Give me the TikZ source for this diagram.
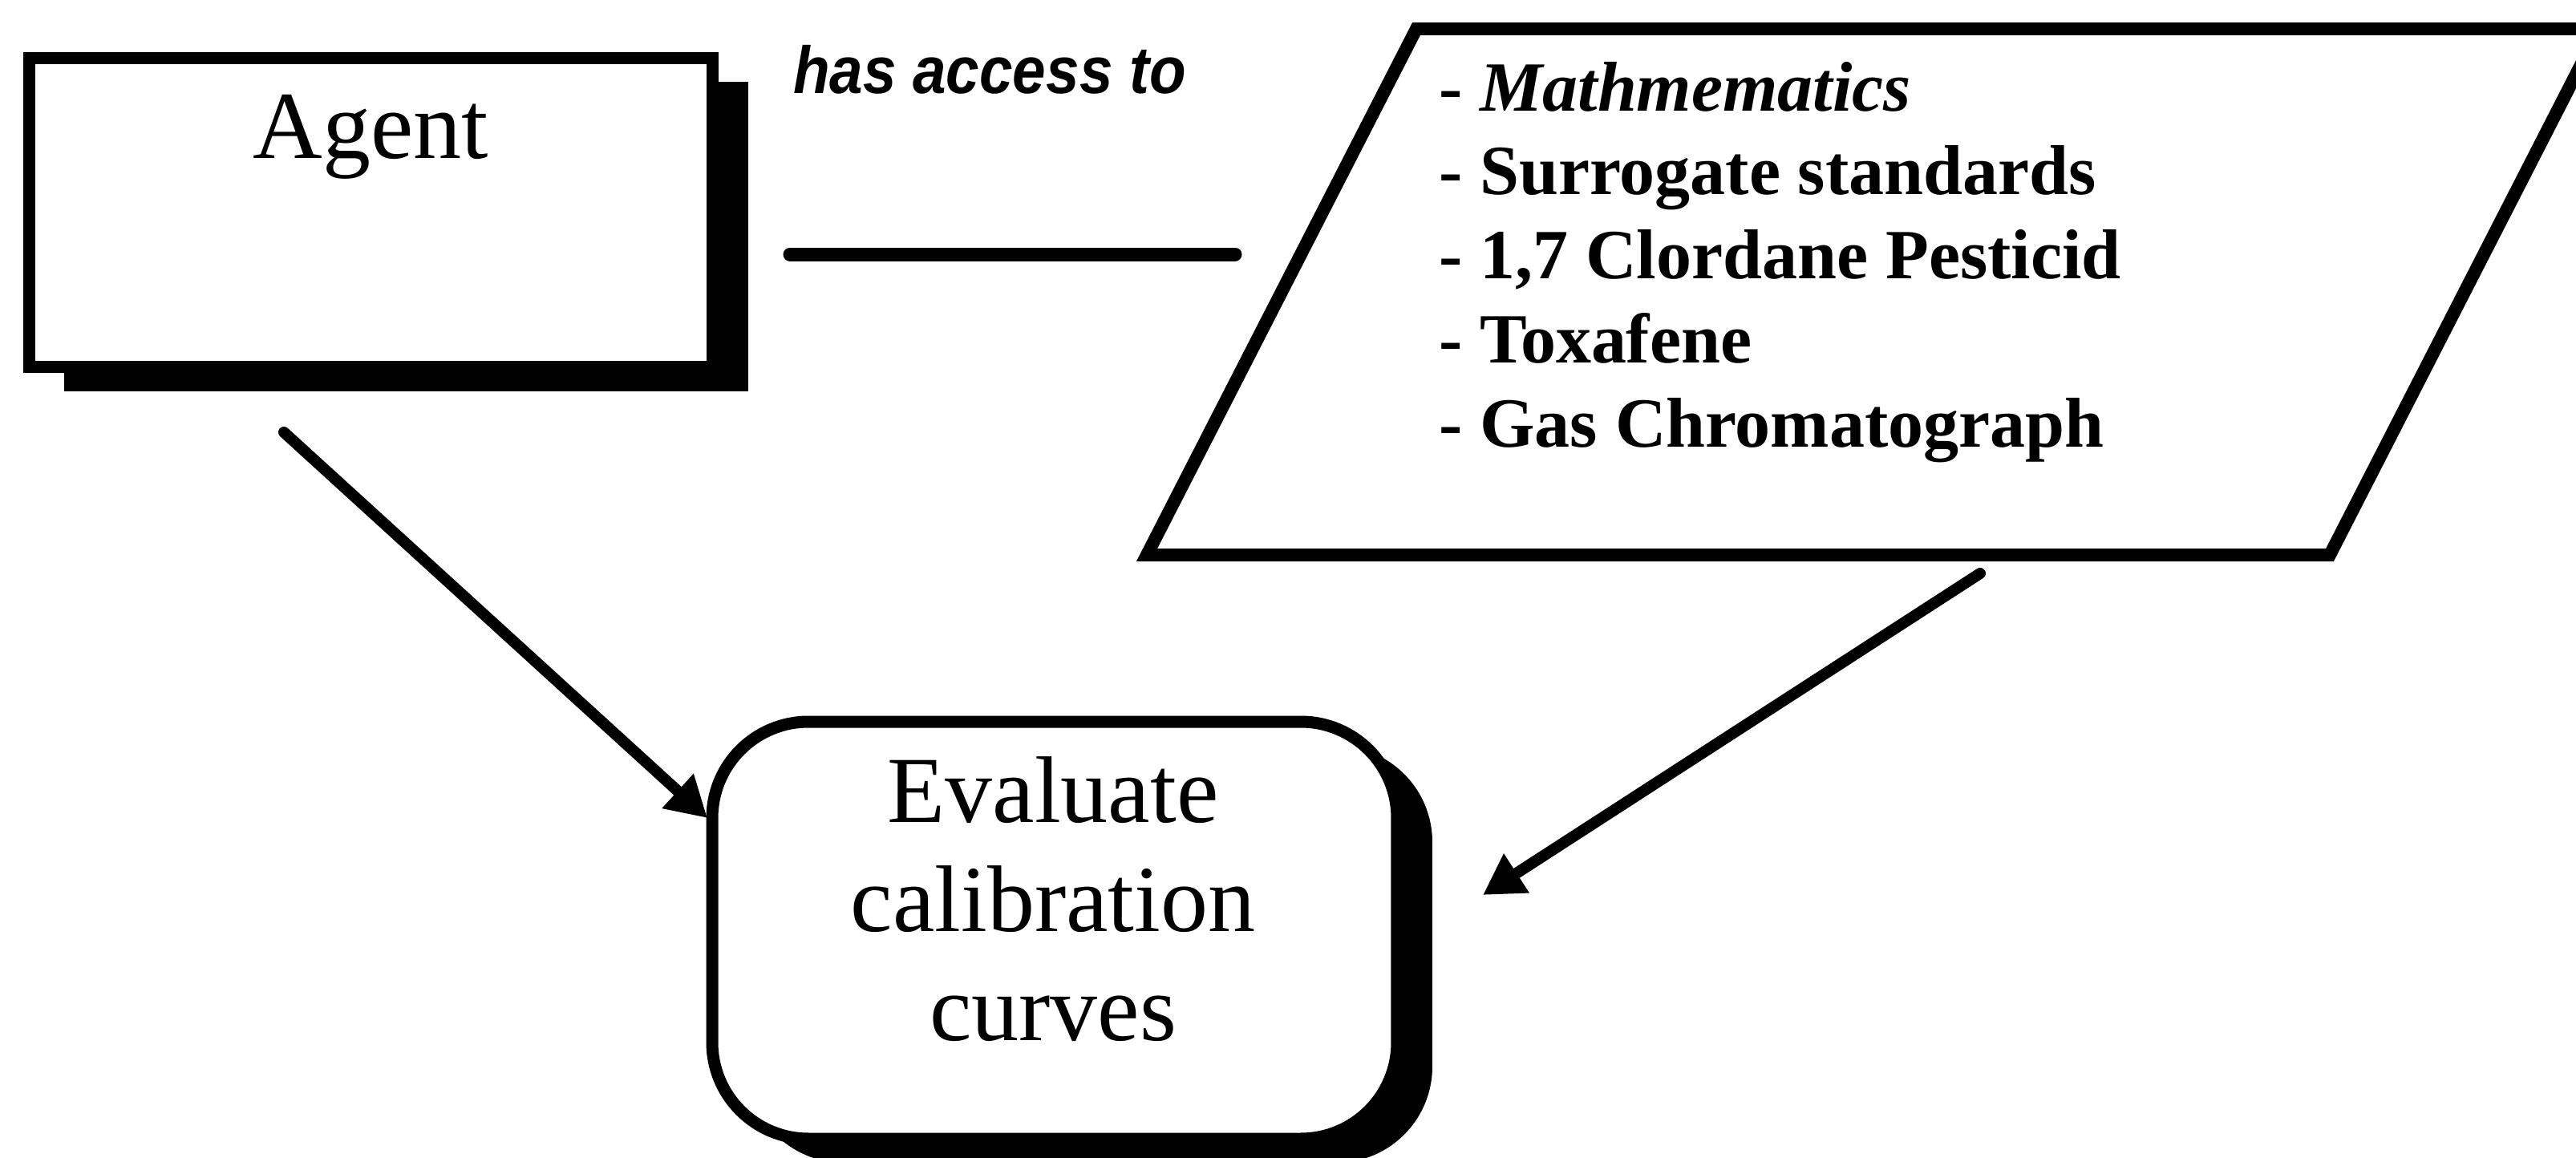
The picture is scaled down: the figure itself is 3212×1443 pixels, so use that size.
\documentclass[tikz,border=0pt]{standalone}
\usepackage{fontspec}
\setmainfont{Liberation Serif}
\newfontfamily\accessfont[FakeStretch=0.9]{Liberation Sans}
\usetikzlibrary{arrows.meta,shadows}
\begin{document}
\begin{tikzpicture}[x=0.1pt,y=-0.1pt,
  box/.style={draw=black, line width=1.5pt, fill=white, inner sep=0pt,
    drop shadow={shadow xshift=4.4pt, shadow yshift=-3pt, opacity=1, fill=black}},
  conn/.style={line width=1.4pt, line cap=round, -{Triangle[width=5.5pt,length=5pt]}},
  plain/.style={inner sep=0pt}
]
\useasboundingbox[fill=white] (0,0) rectangle (3212,1443);

% Agent box
\node[box, minimum width=85.3pt, minimum height=38.6pt] (agent) at (462.5,265) {};
\node[plain, anchor=base, font=\fontsize{12}{14}\selectfont] (agentlabel) at (462,198) {Agent};

% has access to
\node[plain, anchor=base west, font=\accessfont\bfseries\itshape\fontsize{8.3}{10}\selectfont] (access) at (987,117) {has access to};
\coordinate (hl1) at (985,317);
\coordinate (hl2) at (1540,317);
\draw[line width=1.7pt, line cap=round] (hl1) -- (hl2);

% Parallelogram of resources
\coordinate (p1) at (1766,36);
\coordinate (p2) at (3241,36);
\coordinate (p3) at (2905,692);
\coordinate (p4) at (1430,692);
\draw[line width=1.6pt, line join=miter] (p1) -- (p2) -- (p3) -- (p4) -- cycle;
\node[plain, anchor=base west, align=left, font=\bfseries\fontsize{8.8}{10.475}\selectfont] (resources) at (1792,557)
  {- \textit{Mathmematics}\\- Surrogate standards\\- 1,7 Clordane Pesticid\\- Toxafene\\- Gas Chromatograph};

% Evaluate box
\node[box, rounded corners=12pt, minimum width=85.4pt, minimum height=52pt] (evalbox) at (1315,1160) {};
\node[plain, anchor=base, align=center, font=\fontsize{11.8}{13.6}\selectfont] (evaltext) at (1313,1297)
  {Evaluate\\calibration\\curves};

% Connectors
\coordinate (a1s) at (354,539);
\coordinate (a1e) at (882,1020);
\draw[conn] (a1s) -- (a1e);
\coordinate (a2s) at (2469,715);
\coordinate (a2e) at (1849,1116);
\draw[conn] (a2s) -- (a2e);
\end{tikzpicture}
\end{document}
